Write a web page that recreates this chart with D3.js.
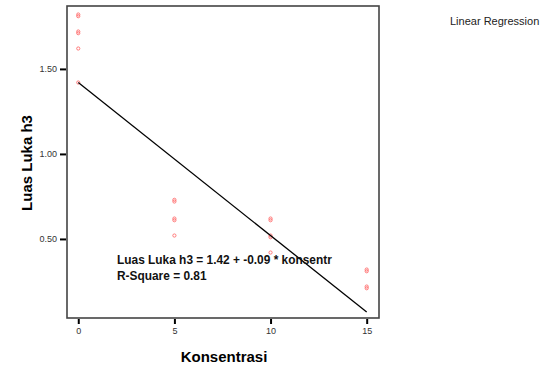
<!DOCTYPE html>
<head>
  <meta charset="utf-8">
  <script src="https://cdn.jsdelivr.net/npm/d3@7"></script>
  <style>
    body { margin: 0; background: #fff; }
    text { font-family: "Liberation Sans", Arial, sans-serif; }
  </style>
</head>
<body>
<script>

var konsentrasi = [0, 0, 0, 0, 0, 0,
                   5, 5, 5, 5, 5,
                   10, 10, 10, 10, 10,
                   15, 15, 15, 15]
var luasLuka = [1.82, 1.81, 1.72, 1.71, 1.62, 1.42,
                0.73, 0.72, 0.62, 0.61, 0.52,
                0.62, 0.61, 0.52, 0.51, 0.42,
                0.32, 0.31, 0.22, 0.21]
var xTicks = [0, 5, 10, 15]
var yTicks = [0.5, 1.0, 1.5]
var intercept = 1.42
var slope = -0.09
var rSquare = 0.81

var width = 547, height = 369
var frame = {left: 67, top: 6, right: 379, bottom: 318}

var svg = d3.select("body").append("svg")
            .attr("width", width)
            .attr("height", height)

var x = d3.scaleLinear()
          .domain([-0.586, 15.64])
          .range([frame.left, frame.right])
var y = d3.scaleLinear()
          .domain([0.035, 1.87])
          .range([frame.bottom, frame.top])

// plot frame
svg.append("rect")
   .attr("x", frame.left)
   .attr("y", frame.top)
   .attr("width", frame.right - frame.left)
   .attr("height", frame.bottom - frame.top)
   .attr("fill", "none")
   .attr("stroke", "#444")
   .attr("stroke-width", 1.6)

var xAxis = svg.append("g")
   .attr("transform", "translate(0," + (frame.bottom + 1) + ")")
   .call(d3.axisBottom(x).tickValues(xTicks).tickSize(5).tickPadding(4)
           .tickFormat(d3.format("d")))
xAxis.select(".domain").remove()
xAxis.selectAll("line").attr("stroke", "#000").attr("stroke-width", 2)
xAxis.selectAll("text").attr("font-size", 9).attr("fill", "#333")
     .attr("font-family", "Liberation Sans, Arial, sans-serif")

var yAxis = svg.append("g")
   .attr("transform", "translate(" + (frame.left - 1) + ",0)")
   .call(d3.axisLeft(y).tickValues(yTicks).tickSize(6).tickPadding(3)
           .tickFormat(d3.format(".2f")))
yAxis.select(".domain").remove()
yAxis.selectAll("line").attr("stroke", "#000").attr("stroke-width", 2)
yAxis.selectAll("text").attr("font-size", 9).attr("fill", "#333")
     .attr("font-family", "Liberation Sans, Arial, sans-serif")

// points
svg.append("g").selectAll("circle")
   .data(konsentrasi)
   .enter()
   .append("circle")
   .attr("cx", function(d) { return x(d) })
   .attr("cy", function(d, i) { return y(luasLuka[i]) })
   .attr("r", 1.6)
   .attr("fill", "none")
   .attr("stroke", "#ff7a7a")
   .attr("stroke-width", 1)

// fitted line
var line = d3.line()
   .x(function(d) { return x(d) })
   .y(function(d) { return y(intercept + slope * d) })
svg.append("path")
   .datum([0, 15])
   .attr("d", line)
   .attr("fill", "none")
   .attr("stroke", "#000")
   .attr("stroke-width", 1.3)

svg.append("text")
   .attr("x", 117)
   .attr("y", 264)
   .attr("font-size", 11.9)
   .attr("font-weight", "bold")
   .attr("fill", "#111")
   .text("Luas Luka h3 = " + intercept.toFixed(2) + " + " + slope.toFixed(2) + " * konsentr")

svg.append("text")
   .attr("x", 117)
   .attr("y", 280)
   .attr("font-size", 11.9)
   .attr("font-weight", "bold")
   .attr("fill", "#111")
   .text("R-Square = " + rSquare.toFixed(2))

svg.append("text")
   .attr("x", 224)
   .attr("y", 362)
   .attr("text-anchor", "middle")
   .attr("font-size", 15)
   .attr("font-weight", "bold")
   .text("Konsentrasi")

svg.append("text")
   .attr("transform", "translate(32,163) rotate(-90)")
   .attr("text-anchor", "middle")
   .attr("font-size", 15)
   .attr("font-weight", "bold")
   .text("Luas Luka h3")

svg.append("text")
   .attr("x", 450)
   .attr("y", 25)
   .attr("font-size", 11)
   .attr("fill", "#222")
   .text("Linear Regression")

</script>
</body>
